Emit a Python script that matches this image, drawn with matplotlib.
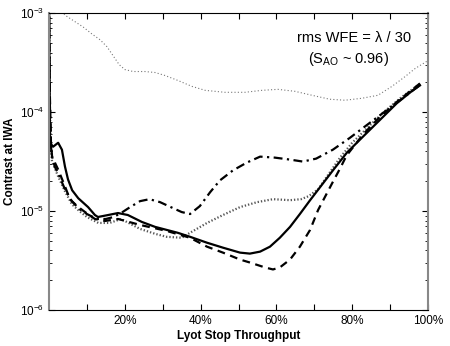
import matplotlib.pyplot as plt
import numpy as np

plt.rcParams['font.family'] = ['Liberation Sans', 'DejaVu Sans']
plt.rcParams['mathtext.fontset'] = 'custom'
plt.rcParams['mathtext.rm'] = 'Liberation Sans'
plt.rcParams['mathtext.it'] = 'Liberation Sans:italic'

# throughput (%) and log10(contrast)
x_solid = [0, 0.15, 0.26, 1.06, 2.4, 3.4, 4.2, 5.0, 6.1, 7.7, 10.3, 12.1, 12.9, 15.6, 18.2, 20.8, 24.5, 28, 31, 34,
           37.2, 41.7, 45.9, 50.4, 53.0, 55.7, 58.3, 60.9, 63.6, 66.2, 68.9, 71.5, 74.9, 78.6, 82.8, 87.3, 91.8, 96, 97.9]
y_solid = [-2.9, -3.7, -4.31, -4.35, -4.31, -4.38, -4.55, -4.68, -4.79, -4.87, -4.96, -5.04, -5.06, -5.04, -5.02, -5.04, -5.11, -5.16, -5.19, -5.22,
           -5.26, -5.32, -5.37, -5.42, -5.43, -5.41, -5.36, -5.27, -5.16, -5.03, -4.89, -4.76, -4.59, -4.41, -4.25, -4.08, -3.91, -3.78, -3.73]

x_dash = [0, 0.2, 0.5, 0.8, 2.4, 4.2, 5.5, 7.4, 9.5, 12.1, 14.8, 18.2, 24, 31, 37.2, 41.7, 45.9, 50.4, 53.0, 57.0, 59.1,
          60.9, 63.6, 66.2, 68.9, 71, 74.7, 76.8, 78.5, 83, 87.3, 92, 97.9]
y_dash = [-2.9, -3.8, -4.3, -4.45, -4.58, -4.75, -4.88, -4.95, -5.01, -5.08, -5.10, -5.08, -5.14, -5.20, -5.27, -5.36, -5.42, -5.49, -5.52, -5.57, -5.59,
          -5.57, -5.49, -5.36, -5.19, -4.99, -4.72, -4.57, -4.44, -4.22, -4.05, -3.89, -3.71]

x_dashdot = [0, 0.2, 0.5, 0.8, 1.5, 2.4, 4.2, 6, 8, 10, 12.6, 15, 17, 19, 21.4, 24, 26.5, 29.3, 32.7, 35, 37.2, 39.8, 42.5, 45.1,
             48.5, 52.2, 55.7, 59.6, 63.6, 67, 70.5, 74.9, 79.4, 83.9, 88.1, 92.6, 97.1, 98]
y_dashdot = [-2.9, -3.9, -4.35, -4.45, -4.55, -4.62, -4.78, -4.9, -4.98, -5.03, -5.08, -5.08, -5.06, -5.02, -4.96, -4.90, -4.88, -4.91, -4.97, -5.01, -5.03, -4.95, -4.81, -4.69,
             -4.59, -4.51, -4.45, -4.46, -4.48, -4.50, -4.47, -4.38, -4.26, -4.13, -4.01, -3.88, -3.75, -3.72]

x_dot = [0, 0.2, 0.5, 0.8, 2.4, 4.2, 6, 8, 10, 13, 16, 19, 24, 28, 31, 35, 37.2, 41.7, 45.9, 50.4, 54.9, 59.1, 63.6, 66.5,
         68.5, 71, 73, 76.8, 80, 84, 88, 93, 98]
y_dot = [-2.9, -3.9, -4.4, -4.5, -4.65, -4.8, -4.93, -5.0, -5.06, -5.12, -5.12, -5.08, -5.18, -5.23, -5.26, -5.27, -5.22, -5.12, -5.04, -4.96, -4.91, -4.88, -4.89, -4.88,
         -4.85, -4.78, -4.67, -4.46, -4.31, -4.16, -4.01, -3.85, -3.71]

x_top = [3, 4.2, 6.6, 9.0, 11.3, 13.5, 15.3, 16.9, 18.5, 20, 22.2, 25.3, 28, 30.6, 34, 37.7, 41.2, 46.4, 51.7, 56.2,
         60.4, 64.9, 69.4, 74.1, 78.1, 82.6, 86.8, 90.5, 94, 96.6, 100]
y_top = [-2.95, -3.02, -3.08, -3.14, -3.21, -3.27, -3.34, -3.43, -3.52, -3.57, -3.59, -3.59, -3.60, -3.63, -3.68, -3.74, -3.78, -3.80, -3.80, -3.78,
         -3.77, -3.79, -3.83, -3.87, -3.88, -3.86, -3.83, -3.74, -3.64, -3.56, -3.48]

xticks = [10, 20, 30, 40, 50, 60, 70, 80, 90, 100]
xticklabels = ['', '20%', '', '40%', '', '60%', '', '80%', '', '100%']

fig = plt.figure(figsize=(4.5, 3.46), dpi=100)
ax = fig.add_axes([0.109, 0.104, 0.842, 0.858])

ax.plot(x_top, 10 ** np.array(y_top), color='#777777', lw=0.8, ls=(0, (1, 2)))
ax.plot(x_dot, 10 ** np.array(y_dot), color='#555555', lw=1.6, ls=(0, (0.6, 0.9)))
ax.plot(x_dashdot, 10 ** np.array(y_dashdot), color='black', lw=1.6, ls=(0, (4, 2, 1, 2)))
ax.plot(x_dash, 10 ** np.array(y_dash), color='black', lw=1.6, ls=(0, (3.5, 2.5)))
ax.plot(x_solid, 10 ** np.array(y_solid), color='black', lw=1.6)

ax.set_yscale('log')
ax.set_ylim(1e-6, 1e-3)
ax.set_xlim(0, 100)
ax.set_xticks(xticks)
ax.set_xticklabels(xticklabels)
ax.tick_params(which='both', direction='in', top=True, right=True, labelsize=8.5)
ax.tick_params(which='major', length=4)
ax.tick_params(which='minor', length=2)

for s in ['left', 'right']:
    ax.spines[s].set_color('#888888')
    ax.spines[s].set_linewidth(1.5)
for s in ['top', 'bottom']:
    ax.spines[s].set_linewidth(0.8)

ax.set_xlabel('Lyot Stop Throughput', fontsize=8.5, fontweight='bold', labelpad=2)
ax.set_ylabel('Contrast at IWA', fontsize=8.5, fontweight='bold', labelpad=3)

ax.text(0.955, 0.915, 'rms WFE = λ / 30', transform=ax.transAxes, ha='right', va='center', fontsize=10.5)
ax.text(0.79, 0.845, r'(S$_{\rm AO}$ ~ 0.96)', transform=ax.transAxes, ha='center', va='center', fontsize=10.5)

fig.savefig('out.png', dpi=100)
